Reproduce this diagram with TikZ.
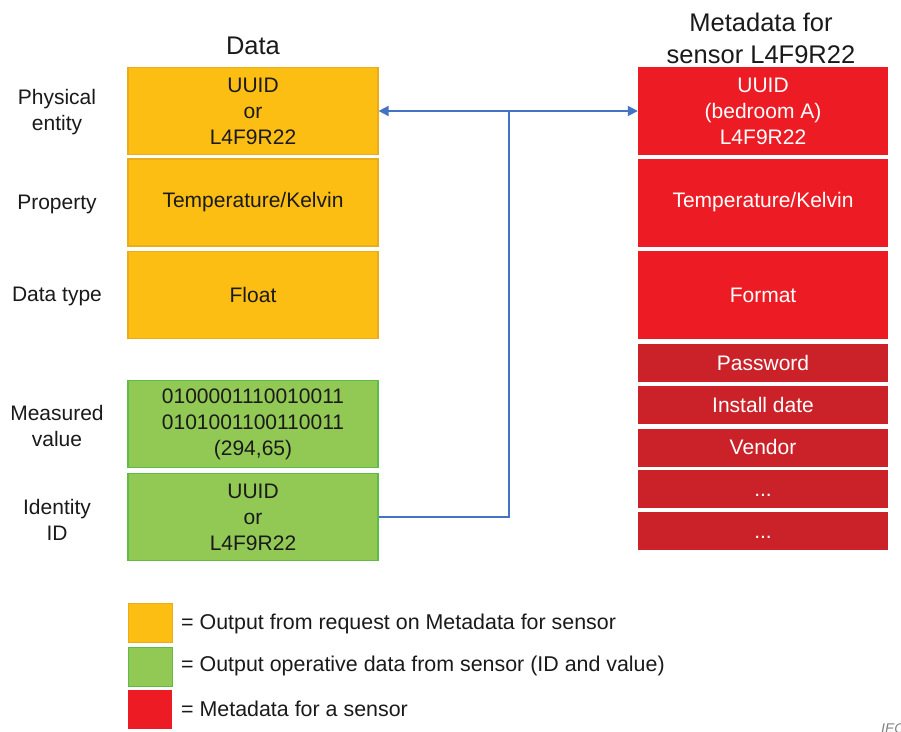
\documentclass[tikz,border=0pt]{standalone}
\usepackage{fontspec}
\setmainfont{Liberation Sans}
\usetikzlibrary{arrows.meta}
\definecolor{yfill}{HTML}{FCBE13}
\definecolor{yedge}{HTML}{E9AC1A}
\definecolor{gfill}{HTML}{92C954}
\definecolor{gedge}{HTML}{5DBB46}
\definecolor{rfill}{HTML}{ED1C24}
\definecolor{dfill}{HTML}{CB2229}
\definecolor{conn}{HTML}{4472C4}
\definecolor{txt}{HTML}{1A1A1A}
\newcommand{\boxfont}{\fontsize{21}{26}\selectfont}
\tikzset{
  cell/.style={minimum width=250pt, align=center, inner sep=0pt, font=\boxfont},
  ybox/.style={cell, fill=yfill, draw=yedge, line width=1.2pt, text=txt, minimum height=87pt},
  gbox/.style={cell, fill=gfill, draw=gedge, line width=1.2pt, text=txt, minimum height=87pt},
  rbox/.style={cell, fill=rfill, text=white, minimum height=88pt},
  dbox/.style={cell, fill=dfill, text=white, minimum height=38pt, text height=16pt, text depth=2pt},
  lbl/.style={align=center, inner sep=0pt, text=txt, font=\boxfont},
  ttl/.style={align=center, inner sep=0pt, text=txt, font=\fontsize{25.5}{32}\selectfont},
  legsq/.style={minimum width=44pt, minimum height=39pt, inner sep=0pt, line width=1pt},
  legtxt/.style={anchor=west, inner sep=0pt, text=txt, font=\fontsize{21.4}{26}\selectfont},
  link/.style={draw=conn, line width=1.8pt},
  tip/.style={-{Triangle[length=10pt,width=10pt]}}
}
\begin{document}
\begin{tikzpicture}[x=1pt,y=-1pt]
\useasboundingbox[fill=white] (0,0) rectangle (901,731);
% titles
\node[ttl] (tdata) at (253,46) {Data};
\node[ttl] (tmeta) at (761,38) {Metadata for\\sensor L4F9R22};
% row labels
\node[lbl] (lpe) at (57,112) {Physical\\entity};
\node[lbl] (lpr) at (57,204) {Property};
\node[lbl] (ldt) at (57,296) {Data type};
\node[lbl] (lmv) at (57,426) {Measured\\value};
\node[lbl] (lid) at (57,520) {Identity\\ID};
% data column
\node[ybox] (y1) at (253,111) {UUID\\or\\L4F9R22};
\node[ybox] (y2) at (253,202.5) {Temperature/Kelvin};
\node[ybox] (y3) at (253,295) {Float};
\node[gbox] (g1) at (253,424) {0100001110010011\\0101001100110011\\(294,65)};
\node[gbox] (g2) at (253,517) {UUID\\or\\L4F9R22};
% metadata column
\node[rbox] (r1) at (763,111) {UUID\\(bedroom A)\\L4F9R22};
\node[rbox] (r2) at (763,202.5) {Temperature/Kelvin};
\node[rbox] (r3) at (763,295) {Format};
\node[dbox] (d1) at (763,363) {Password};
\node[dbox] (d2) at (763,405) {Install date};
\node[dbox] (d3) at (763,447.5) {Vendor};
\node[dbox] (d4) at (763,489) {...};
\node[dbox] (d5) at (763,531) {...};
% connectors
\coordinate (j) at (509,111);
\draw[link, tip] (j) -- (y1.east);
\draw[link, tip] (j) -- (r1.west);
\draw[link] (g2.east) -- (g2.east -| j) -- (j);
% legend
\node[legsq, fill=yfill, draw=yedge] (ky) at (150,623) {};
\node[legsq, fill=gfill, draw=gedge] (kg) at (150,666.5) {};
\node[legsq, fill=rfill] (kr) at (150,709.5) {};
\node[legtxt] (ty) at (181,624) {= Output from request on Metadata for sensor};
\node[legtxt] (tg) at (181,666) {= Output operative data from sensor (ID and value)};
\node[legtxt] (tr) at (181,709) {= Metadata for a sensor};
% cropped source mark
\node[anchor=west, inner sep=0pt, text=gray, font=\itshape\fontsize{14}{16}\selectfont] (iec) at (881,729) {IEC};
\end{tikzpicture}
\end{document}
